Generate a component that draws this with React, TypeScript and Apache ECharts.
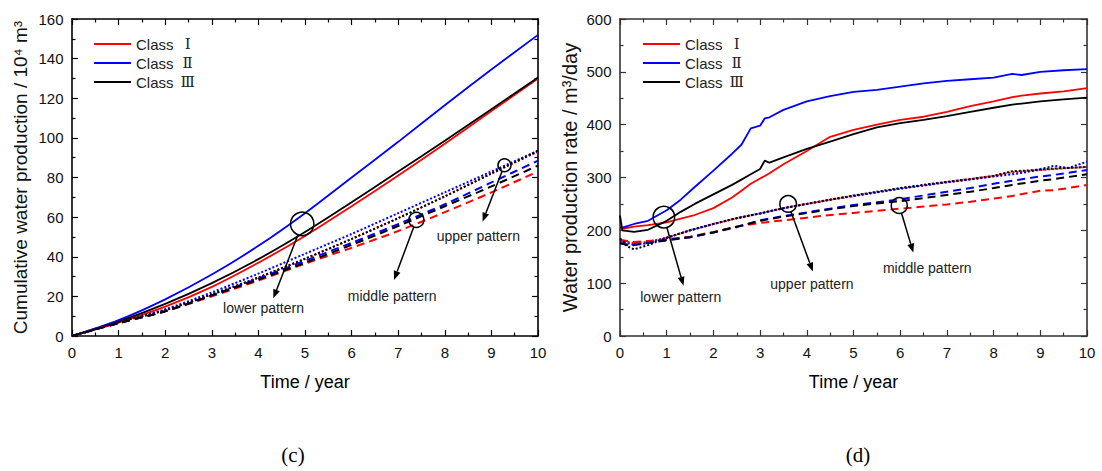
import React, { useEffect, useRef } from "react";
import * as echarts from "echarts";

// ---------- Data ----------
const legendNames = ["Class Ⅰ", "Class Ⅱ", "Class Ⅲ"];

// (c) Cumulative water production, 10^4 m^3, yearly
const cumYears = [0, 1, 2, 3, 4, 5, 6, 7, 8, 9, 10];
const cumLowerI = [0, 6.8, 14.8, 24.8, 37, 50.5, 65.5, 81, 97, 113.5, 130];
const cumLowerII = [0, 8, 18.5, 31, 45.5, 62, 80, 98, 116.5, 134.5, 152];
const cumLowerIII = [0, 7.3, 16.2, 26.7, 38.8, 52.5, 67.5, 83, 98.5, 114.5, 130.5];
const cumUpperI = [0, 7, 13, 21, 29.5, 39, 49, 59.5, 70.5, 82, 93];
const cumUpperII = [0, 7, 13.5, 22, 31.5, 41.5, 51.5, 62, 72.5, 83, 93.5];
const cumUpperIII = [0, 7, 13, 21, 29.5, 39, 49, 59.5, 70.5, 82, 93.5];
const cumMiddleI = [0, 6.5, 12.5, 20, 28, 36.5, 44.5, 53, 62.5, 72.5, 83];
const cumMiddleII = [0, 6.5, 12.5, 20.5, 29, 38, 47, 56.5, 66.5, 77.5, 88.5];
const cumMiddleIII = [0, 6.5, 12.5, 20.5, 28.5, 37, 46, 55.5, 65.5, 75.5, 86];

// (d) Water production rate, m^3/day
const rateTimeLower = [0, 0.05, 0.3, 0.6, 1.0, 1.3, 1.6, 2.0, 2.4, 2.6, 2.8, 3.0, 3.1, 3.2, 3.5, 4.0, 4.5, 5.0, 5.5, 6.0, 6.5, 7.0, 7.5, 8.0, 8.4, 8.6, 9.0, 9.5, 10];
const rateLowerI = [203, 203, 207, 210, 215, 222, 229, 242, 262, 275, 288, 298, 303, 308, 325, 350, 377, 390, 400, 409, 415, 424, 435, 444, 452, 455, 459, 463, 469];
const rateLowerII = [205, 205, 212, 218, 238, 258, 282, 313, 345, 362, 393, 398, 412, 414, 428, 444, 454, 462, 466, 472, 478, 483, 486, 489, 496, 494, 500, 503, 505];
const rateLowerIII = [228, 200, 197, 201, 218, 235, 250, 268, 286, 296, 306, 316, 332, 328, 338, 354, 368, 382, 395, 403, 409, 416, 424, 432, 438, 440, 444, 448, 451];

const rateTimePattern = [0, 0.15, 0.3, 0.6, 1, 1.5, 2, 2.5, 3, 3.5, 4, 4.5, 5, 5.5, 6, 6.5, 7, 7.5, 8, 8.4, 8.7, 9, 9.3, 9.6, 10];
const rateUpperI = [182, 178, 176, 178, 186, 200, 212, 223, 232, 242, 250, 258, 265, 272, 279, 285, 291, 297, 303, 310, 312, 314, 316, 318, 320];
const rateUpperII = [180, 176, 172, 176, 186, 200, 212, 223, 232, 242, 250, 258, 265, 272, 279, 285, 291, 296, 302, 306, 310, 316, 322, 318, 330];
const rateUpperIII = [185, 170, 164, 172, 186, 200, 212, 223, 232, 242, 250, 258, 266, 273, 280, 286, 292, 297, 303, 312, 313, 315, 317, 318, 320];
const rateMiddleI = [182, 180, 178, 180, 183, 188, 197, 207, 214, 219, 224, 229, 233, 237, 241, 245, 249, 254, 260, 265, 270, 275, 276, 280, 286];
const rateMiddleII = [175, 173, 174, 177, 182, 187, 196, 206, 219, 227, 234, 241, 248, 253, 259, 266, 273, 280, 288, 294, 298, 302, 305, 309, 314];
const rateMiddleIII = [176, 172, 172, 176, 181, 187, 196, 207, 218, 226, 233, 240, 246, 251, 255, 261, 267, 273, 280, 286, 290, 294, 297, 301, 306];

// Annotations in data coordinates
const annotationsC = [
  { label: "lower pattern", circle: [4.94, 56.6], r: 11.7, tip: [4.32, 19.0], text: [4.11, 14.0] },
  { label: "middle pattern", circle: [7.39, 58.6], r: 7.5, tip: [6.91, 28.3], text: [6.87, 20.4] },
  { label: "upper pattern", circle: [9.28, 86.2], r: 6.5, tip: [8.81, 57.7], text: [8.72, 50.6] },
];
const annotationsD = [
  { label: "lower pattern", circle: [0.94, 225], r: 10.8, tip: [1.36, 95], text: [1.3, 73] },
  { label: "upper pattern", circle: [3.6, 250], r: 8.3, tip: [4.13, 122], text: [4.11, 99] },
  { label: "middle pattern", circle: [5.98, 247], r: 8, tip: [6.28, 158], text: [6.58, 128] },
];

const RED = "#ff0000";
const BLUE = "#0000ff";
const BLACK = "#000000";
const SANS = "'Liberation Sans', Arial, sans-serif";
const SERIF = "'Liberation Serif', 'DejaVu Serif', 'Times New Roman', serif";

function zip(xs: number[], ys: number[]) {
  return xs.map((x, i) => [x, ys[i]]);
}

function lineSeries(name: string, xs: number[], ys: number[], color: string, kind: string, idx: number, smooth: boolean) {
  const lineType = kind === "solid" ? "solid" : kind === "dotted" ? [2, 2] : [8, 5];
  return {
    type: "line",
    name,
    xAxisIndex: idx * 2,
    yAxisIndex: idx * 2,
    data: zip(xs, ys),
    showSymbol: false,
    symbol: "none",
    smooth: smooth ? 0.3 : false,
    color,
    lineStyle: { color, width: kind === "solid" ? 1.8 : 2, type: lineType },
    silent: true,
  };
}

function axisBase(color: string, width: number) {
  return {
    type: "value",
    axisLine: { show: true, onZero: false, lineStyle: { color, width } },
    axisTick: { show: true, inside: true, length: 6, lineStyle: { color, width: 1.2 } },
    minorTick: { show: true, splitNumber: 2, length: 3.5, lineStyle: { color, width: 1.2 } },
    splitLine: { show: false },
    minorSplitLine: { show: false },
  };
}

export default function App() {
  const ref = useRef<HTMLDivElement>(null);
  useEffect(() => {
    if (!ref.current) return;
    const chart = echarts.init(ref.current, null, { renderer: "svg" });

    const grids = [
      { left: 72, top: 19, width: 466, height: 317 },
      { left: 620, top: 19, width: 467, height: 317 },
    ];
    const axisColors = ["#000", "#333"];

    const xAxes: any[] = [];
    const yAxes: any[] = [];
    const yMax = [160, 600];
    const yInt = [20, 100];
    const yNames = ["Cumulative water production / 10⁴ m³", "Water production rate / m³/day"];
    const yNameSize = [19, 20];
    const yGaps = [42, 40];
    for (let g = 0; g < 2; g++) {
      const c = axisColors[g];
      xAxes.push({
        ...axisBase(c, 1.6), gridIndex: g, position: "bottom", min: 0, max: 10, interval: 1,
        axisLabel: { show: true, margin: 9, fontSize: 15, color: "#111", fontFamily: SANS },
        name: "Time / year", nameLocation: "middle", nameGap: 37,
        nameTextStyle: { fontSize: 18, color: "#000", fontFamily: SANS },
      });
      xAxes.push({
        ...axisBase(c, 1.6), gridIndex: g, position: "top", min: 0, max: 10, interval: 1,
        axisLabel: { show: false },
      });
      yAxes.push({
        ...axisBase(c, 1.6), gridIndex: g, position: "left", min: 0, max: yMax[g], interval: yInt[g],
        axisLabel: { show: true, margin: 8.5, fontSize: 15, color: "#111", fontFamily: SANS },
        name: yNames[g], nameLocation: "middle", nameGap: yGaps[g], nameRotate: 90,
        nameTextStyle: { fontSize: yNameSize[g], color: "#111", fontFamily: SANS },
      });
      yAxes.push({
        ...axisBase(c, 1.6), gridIndex: g, position: "right", min: 0, max: yMax[g], interval: yInt[g],
        axisLabel: { show: false },
      });
    }

    const series: any[] = [
      lineSeries("Class Ⅰ", cumYears, cumLowerI, RED, "solid", 0, true),
      lineSeries("Class Ⅱ", cumYears, cumLowerII, BLUE, "solid", 0, true),
      lineSeries("Class Ⅲ", cumYears, cumLowerIII, BLACK, "solid", 0, true),
      lineSeries("Class Ⅰ upper", cumYears, cumUpperI, RED, "dotted", 0, true),
      lineSeries("Class Ⅱ upper", cumYears, cumUpperII, BLUE, "dotted", 0, true),
      lineSeries("Class Ⅲ upper", cumYears, cumUpperIII, BLACK, "dotted", 0, true),
      lineSeries("Class Ⅰ middle", cumYears, cumMiddleI, RED, "dashed", 0, true),
      lineSeries("Class Ⅱ middle", cumYears, cumMiddleII, BLUE, "dashed", 0, true),
      lineSeries("Class Ⅲ middle", cumYears, cumMiddleIII, BLACK, "dashed", 0, true),
      lineSeries("Class Ⅰ", rateTimeLower, rateLowerI, RED, "solid", 1, false),
      lineSeries("Class Ⅱ", rateTimeLower, rateLowerII, BLUE, "solid", 1, false),
      lineSeries("Class Ⅲ", rateTimeLower, rateLowerIII, BLACK, "solid", 1, false),
      lineSeries("Class Ⅰ middle ", rateTimePattern, rateMiddleI, RED, "dashed", 1, false),
      lineSeries("Class Ⅱ middle ", rateTimePattern, rateMiddleII, BLUE, "dashed", 1, false),
      lineSeries("Class Ⅲ middle ", rateTimePattern, rateMiddleIII, BLACK, "dashed", 1, false),
      lineSeries("Class Ⅰ upper ", rateTimePattern, rateUpperI, RED, "dotted", 1, false),
      lineSeries("Class Ⅱ upper ", rateTimePattern, rateUpperII, BLUE, "dotted", 1, false),
      lineSeries("Class Ⅲ upper ", rateTimePattern, rateUpperIII, BLACK, "dotted", 1, false),
    ];

    const legendCommon = {
      orient: "vertical",
      data: legendNames,
      icon: "rect",
      itemWidth: 37,
      itemHeight: 2,
      itemGap: 3,
      selectedMode: false,
      formatter: (name: string) => {
        const parts = name.split(" ");
        return `${parts[0]} {r|${parts[1]}}`;
      },
      textStyle: {
        fontSize: 15,
        lineHeight: 16,
        color: "#222",
        fontFamily: SANS,
        rich: { r: { fontSize: 15, lineHeight: 16, fontFamily: SERIF, color: "#222", width: 20, align: "center" } },
      },
    };

    chart.setOption({
      animation: false,
      backgroundColor: "#fff",
      grid: grids,
      xAxis: xAxes,
      yAxis: yAxes,
      legend: [
        { ...legendCommon, left: 89, top: 31 },
        { ...legendCommon, left: 638, top: 31 },
      ],
      series,
    });

    const graphics: any[] = [];
    const addNotes = (notes: any[], gridIndex: number) => {
      notes.forEach((n) => {
        const c = chart.convertToPixel({ gridIndex } as any, n.circle) as number[];
        const tip = chart.convertToPixel({ gridIndex } as any, n.tip) as number[];
        const tx = chart.convertToPixel({ gridIndex } as any, n.text) as number[];
        const dx = tip[0] - c[0];
        const dy = tip[1] - c[1];
        const len = Math.sqrt(dx * dx + dy * dy);
        const ux = dx / len;
        const uy = dy / len;
        const start = [c[0] + ux * n.r, c[1] + uy * n.r];
        const headLen = 9;
        const headW = 3.5;
        const base = [tip[0] - ux * headLen, tip[1] - uy * headLen];
        graphics.push({
          type: "circle",
          shape: { cx: c[0], cy: c[1], r: n.r },
          style: { fill: "none", stroke: "#000", lineWidth: 1.5 },
          z: 100,
        });
        graphics.push({
          type: "line",
          shape: { x1: start[0], y1: start[1], x2: base[0], y2: base[1] },
          style: { stroke: "#000", lineWidth: 1.5 },
          z: 100,
        });
        graphics.push({
          type: "polygon",
          shape: {
            points: [
              [tip[0], tip[1]],
              [base[0] - uy * headW, base[1] + ux * headW],
              [base[0] + uy * headW, base[1] - ux * headW],
            ],
          },
          style: { fill: "#000" },
          z: 100,
        });
        graphics.push({
          type: "text",
          x: tx[0],
          y: tx[1],
          style: { text: n.label, fontSize: 14, fontFamily: SANS, fill: "#222", align: "center", verticalAlign: "middle" },
          z: 100,
        });
      });
    };
    addNotes(annotationsC, 0);
    addNotes(annotationsD, 1);

    graphics.push({
      type: "text", x: 293, y: 455,
      style: { text: "(c)", fontSize: 21, fontFamily: SERIF, fill: "#000", align: "center", verticalAlign: "middle" },
    });
    graphics.push({
      type: "text", x: 858, y: 455,
      style: { text: "(d)", fontSize: 21, fontFamily: SERIF, fill: "#000", align: "center", verticalAlign: "middle" },
    });

    chart.setOption({ graphic: graphics });

    return () => chart.dispose();
  }, []);

  return (
    <div
      ref={ref}
      style={{ position: "fixed", left: 0, top: 0, width: 1102, height: 471, background: "#fff" }}
    />
  );
}
